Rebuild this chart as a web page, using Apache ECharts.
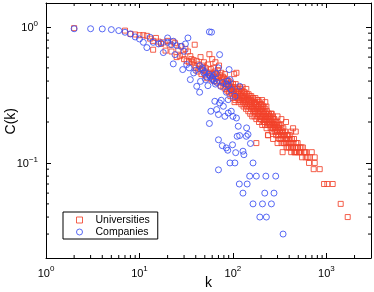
<!DOCTYPE html>
<html><head><meta charset="utf-8">
<script src="https://cdn.jsdelivr.net/npm/echarts@6/dist/echarts.min.js"></script>
<style>html,body{margin:0;padding:0;background:#fff}#c{width:374px;height:292px}</style>
</head><body><div id="c"></div>
<script>
// ---- data: [k, C(k)] ----
const universities = [
[2,0.98],[7,0.94],[8,0.89],[9,0.88],[10,0.87],[11,0.87],[12,0.86],[13,0.82],[14,0.79],[14,0.68],[15,0.83],[16,0.78],[17,0.75],[18,0.77],[19,0.67],[20,0.79],[21,0.74],[22,0.66],[23,0.78],[24,0.76],[25,0.6],[26,0.68],[27,0.61],[28,0.72],[29,0.62],[30,0.58],[31,0.69],[32,0.56],[33,0.66],[34,0.55],[35,0.61],[36,0.58],[37,0.55],[38,0.57],[39,0.52],[39,0.74],
[40,0.5],[41,0.56],[42,0.47],[43,0.53],[44,0.49],[45,0.6],[46,0.45],[47,0.52],[48,0.48],[49,0.55],[50,0.44],[51,0.5],[52,0.47],[53,0.42],[54,0.53],[55,0.46],[56,0.63],[57,0.44],[58,0.49],[59,0.41],[60,0.58],[60,0.45],[61,0.43],[62,0.5],[63,0.4],[64,0.47],[65,0.55],[66,0.42],[67,0.45],[68,0.39],[69,0.48],[70,0.43],[71,0.52],[72,0.4],[73,0.44],[74,0.37],[75,0.46],[76,0.41],[77,0.39],[78,0.43],[79,0.36],[80,0.42],[81,0.38],[82,0.45],[83,0.35],[84,0.4],[85,0.37],[86,0.41],[87,0.34],[88,0.38],[89,0.36],[90,0.4],[91,0.33],[92,0.37],[93,0.35],[94,0.31],[95,0.39],[96,0.34],[97,0.36],[98,0.32],[99,0.35],
[100,0.38],[100,0.3],[101,0.36],[102,0.34],[103,0.45],[104,0.32],[104,0.28],[105,0.36],[106,0.29],[107,0.38],[108,0.33],[109,0.46],[110,0.31],[111,0.35],[112,0.3],[113,0.32],[114,0.33],[115,0.28],[116,0.34],[117,0.29],[118,0.31],[119,0.36],[120,0.29],[121,0.35],[122,0.32],[123,0.27],[124,0.31],[125,0.3],[126,0.34],[127,0.36],[128,0.28],[129,0.31],[130,0.26],[131,0.3],[132,0.33],[133,0.29],[134,0.33],[135,0.27],[136,0.31],[137,0.28],[138,0.25],[139,0.35],[140,0.29],[141,0.32],[142,0.26],[143,0.27],[145,0.3],[146,0.24],[147,0.32],[148,0.28],[149,0.29],[150,0.26],[151,0.31],[152,0.27],[153,0.23],[155,0.27],[156,0.29],[157,0.31],[158,0.25],[159,0.26],[160,0.28],[161,0.22],[162,0.3],[163,0.26],[165,0.3],[166,0.24],[167,0.25],[168,0.27],[169,0.28],[170,0.22],[171,0.25],[172,0.24],[173,0.28],[174,0.3],[175,0.23],[176,0.26],[177,0.27],[178,0.21],[178,0.14],[179,0.25],[180,0.24],[182,0.27],[183,0.29],[184,0.22],[185,0.25],[186,0.23],[187,0.29],[188,0.26],[189,0.23],[190,0.2],[191,0.28],[192,0.26],[193,0.24],[194,0.22],[195,0.21],[196,0.24],[198,0.27],[199,0.25],
[200,0.21],[202,0.23],[203,0.27],[204,0.25],[205,0.22],[205,0.29],[206,0.19],[208,0.22],[209,0.24],[210,0.26],[212,0.2],[213,0.26],[214,0.24],[216,0.21],[217,0.22],[218,0.23],[220,0.19],[221,0.2],[222,0.25],[222,0.28],[224,0.21],[225,0.23],[226,0.22],[228,0.26],[229,0.18],[231,0.24],[232,0.21],[233,0.2],[235,0.19],[236,0.22],[237,0.16],[238,0.16],[239,0.23],[240,0.21],[242,0.2],[243,0.23],[245,0.19],[247,0.22],[248,0.2],[250,0.22],[251,0.19],[253,0.18],[255,0.21],[256,0.23],[258,0.19],[260,0.23],[261,0.2],[263,0.17],[265,0.18],[266,0.2],[268,0.22],[269,0.15],[270,0.18],[272,0.19],[273,0.21],[276,0.19],[278,0.21],[280,0.17],[282,0.18],[283,0.2],[286,0.18],[288,0.2],[290,0.16],[292,0.17],[294,0.19],[297,0.17],[298,0.19],[300,0.14],[300,0.2],[300,0.22],[303,0.18],[305,0.16],[308,0.16],[310,0.18],[312,0.19],[314,0.15],[318,0.17],[320,0.17],[322,0.19],[325,0.15],[327,0.16],[330,0.18],[330,0.21],[331,0.14],[336,0.17],[338,0.16],[340,0.12],[341,0.15],[344,0.17],[346,0.18],[350,0.14],[351,0.16],[356,0.14],[358,0.16],[362,0.17],[365,0.15],[368,0.15],[370,0.2],[371,0.14],[374,0.13],[378,0.15],[380,0.16],[384,0.13],[386,0.14],[390,0.16],[392,0.15],[399,0.13],[402,0.14],[405,0.16],[410,0.15],[412,0.14],[418,0.13],[420,0.12],[420,0.17],[425,0.14],[428,0.15],[436,0.13],[440,0.13],[440,0.18],[445,0.14],[450,0.15],[455,0.12],[459,0.12],[465,0.13],[470,0.12],[470,0.17],[475,0.14],[480,0.13],[486,0.12],[492,0.14],[497,0.13],[508,0.12],[515,0.12],[520,0.13],[531,0.12],[540,0.13],[549,0.11],[560,0.13],[575,0.12],[590,0.12],[601,0.11],[611,0.12],[630,0.11],[652,0.1],[663,0.11],[697,0.12],[731,0.09],[750,0.11],[750,0.1],[848,0.09],[944,0.07],[1024,0.07],[1167,0.07],[1422,0.05],[1690,0.04]
];
const companies = [
[2,0.97],[3,0.97],[4,0.967],[5,0.956],[6,0.94],[7,0.914],[8,0.888],[9,0.844],[10,0.816],[11,0.771],[12,0.705],[13,0.839],[14,0.771],[16,0.75],[17,0.763],[18,0.648],[20,0.83],[20,0.771],[22,0.741],[23,0.785],[23,0.535],[24,0.626],[25,0.729],[28,0.721],[30,0.662],[31,0.75],[33,0.83],[29,0.486],[32,0.529],[34,0.5],[35,0.41],[38,0.459],[40,0.48],[41,0.366],[44,0.331],[45,0.398],[44,0.52],[47,0.486],[47,0.5],[49,0.459],[50,0.47],[51,0.41],[52,0.43],[54,0.37],[55,0.45],[56,0.92],[59,0.915],[57,0.434],[60,0.42],[61,0.41],[62,0.44],[63,0.4],[65,0.38],[66,0.454],[67,0.392],[70,0.5],[72,0.626],[74,0.366],[78,0.39],[85,0.38],[88,0.4],[90,0.37],
[58,0.24],[56,0.195],[64,0.284],[67,0.247],[70,0.227],[72,0.276],[75,0.289],[79,0.261],[82,0.22],[85,0.331],[89,0.292],[91,0.486],[93,0.41],[96,0.346],[89,0.233],[96,0.24],[100,0.22],[105,0.309],[109,0.214],[114,0.186],[118,0.366],
[70,0.148],[77,0.134],[85,0.129],[88,0.124],[99,0.136],[107,0.119],[111,0.157],[118,0.159],[140,0.181],[145,0.162],[139,0.157],[70,0.089],[93,0.1],[105,0.1],[128,0.122],[131,0.115],[154,0.139],[164,0.1],[151,0.08],[178,0.08],[225,0.08],[117,0.07],[142,0.07],[128,0.06],[164,0.05],[207,0.05],[258,0.05],[194,0.04],[228,0.04],[275,0.06],[219,0.06],[287,0.08],[344,0.03]
];
const xRange = [1, 3000];
const yRange = [0.02, 1.5];
const xMinorTicks = [2,3,4,5,6,7,8,9,20,30,40,50,60,70,80,90,200,300,400,500,600,700,800,900,2000];
const yMinorTicks = [0.03,0.04,0.05,0.06,0.07,0.08,0.09,0.2,0.3,0.4,0.5,0.6,0.7,0.8,0.9];

const RED = '#f2432b', BLUE = '#3b4ff2';
const FONT = 'Liberation Sans, Arial, sans-serif';

function powLabel(v){
  const l = Math.log10(v), e = Math.round(l);
  if (Math.abs(l - e) > 1e-6) return '';
  return '{b|10}{s|' + (e < 0 ? '\u2212' + (-e) : e) + '}';
}
const rich = { b:{fontSize:11, fontFamily:FONT, color:'#000', lineHeight:14, verticalAlign:'bottom'},
               s:{fontSize:8, fontFamily:FONT, color:'#000', lineHeight:14, verticalAlign:'top'} };

const frameAxis = { lineStyle:{color:'#000', width:1} };
const MT = 3; // minor tick length
function minorTickSeries(data, size, offset){
  return {type:'scatter', silent:true, clip:false, z:5, symbol:'rect', symbolSize:size,
          symbolOffset:offset, data:data, itemStyle:{color:'#000', opacity:1},
          emphasis:{disabled:true}, tooltip:{show:false}};
}
const chart = echarts.init(document.getElementById('c'), null, {renderer:'canvas'});
chart.setOption({
  animation:false,
  backgroundColor:'#fff',
  grid:{left:46, right:3, top:3, bottom:34, containLabel:false, outerBoundsMode:'none'},
  xAxis:[
    {type:'log', min:xRange[0], max:xRange[1], position:'bottom', axisLine:frameAxis,
     axisTick:{inside:true, length:5, lineStyle:{color:'#000'}}, splitLine:{show:false},
     axisLabel:{formatter:powLabel, rich:rich, margin:7, showMaxLabel:false},
     name:'k', nameLocation:'middle', nameGap:18, nameMoveOverlap:false,
     nameTextStyle:{fontSize:14, fontFamily:FONT, color:'#000'}},
    {type:'log', min:xRange[0], max:xRange[1], position:'top', axisLine:frameAxis,
     axisTick:{inside:true, length:5, lineStyle:{color:'#000'}}, splitLine:{show:false}, axisLabel:{show:false}}
  ],
  yAxis:[
    {type:'log', min:yRange[0], max:yRange[1], position:'left', axisLine:frameAxis,
     axisTick:{inside:true, length:5, lineStyle:{color:'#000'}}, splitLine:{show:false},
     axisLabel:{formatter:powLabel, rich:rich, margin:8, showMinLabel:false, showMaxLabel:false}},
    {type:'log', min:yRange[0], max:yRange[1], position:'right', axisLine:frameAxis,
     axisTick:{inside:true, length:5, lineStyle:{color:'#000'}}, splitLine:{show:false}, axisLabel:{show:false}}
  ],
  legend:{
    left:63, top:212, orient:'vertical', backgroundColor:'#fff', borderColor:'#000', borderWidth:1,
    padding:[2,8,1,13], itemGap:0, itemWidth:6, itemHeight:6, selectedMode:false,
    textStyle:{fontSize:10.5, fontFamily:FONT, color:'#000', lineHeight:12, padding:[0,0,0,8]},
    data:[
      {name:'Universities', icon:'rect', itemStyle:{color:'rgba(0,0,0,0)', borderColor:RED, borderWidth:1}},
      {name:'Companies', icon:'circle', itemStyle:{color:'rgba(0,0,0,0)', borderColor:BLUE, borderWidth:1}}
    ]
  },
  series:[
    {name:'Universities', type:'scatter', symbol:'rect', symbolSize:5, data:universities,
     itemStyle:{color:'rgba(0,0,0,0)', borderColor:RED, borderWidth:1, opacity:0.85}},
    {name:'Companies', type:'scatter', symbol:'circle', symbolSize:6, data:companies,
     itemStyle:{color:'rgba(0,0,0,0)', borderColor:BLUE, borderWidth:1, opacity:0.85}},
    minorTickSeries(xMinorTicks.map(v => [v, yRange[0]]), [1, MT], [0, -MT/2]),
    minorTickSeries(xMinorTicks.map(v => [v, yRange[1]]), [1, MT], [0, MT/2]),
    minorTickSeries(yMinorTicks.map(v => [xRange[0], v]), [MT, 1], [MT/2, 0]),
    minorTickSeries(yMinorTicks.map(v => [xRange[1], v]), [MT, 1], [-MT/2, 0])
  ],
  graphic:[{type:'text', left:4, top:108, rotation:Math.PI/2,
            style:{text:'C(k)', font:'14px ' + FONT, fill:'#000'}}]
});
</script></body></html>
